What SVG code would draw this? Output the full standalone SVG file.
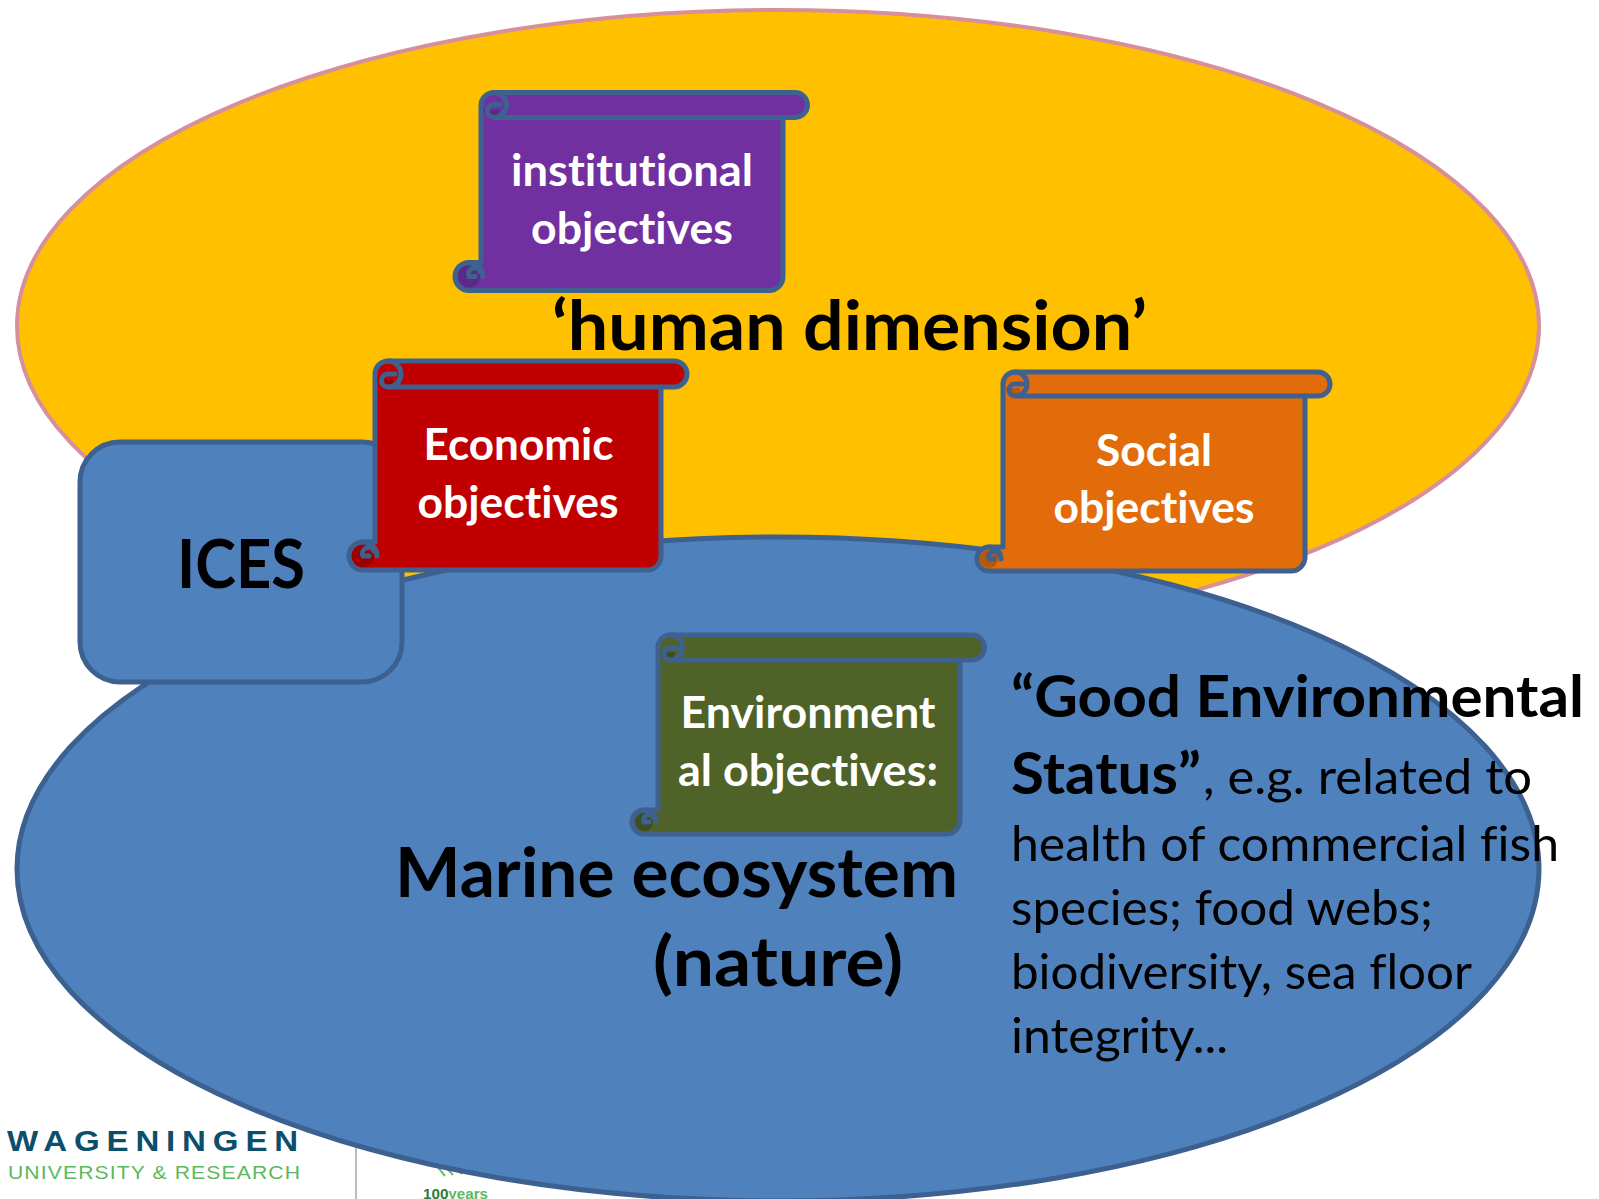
<svg xmlns="http://www.w3.org/2000/svg" width="1599" height="1199" viewBox="0 0 1599 1199">
<style>
text{font-family:"Lato","Liberation Sans",sans-serif;font-variant-ligatures:none}
.b{font-weight:700}
.w{fill:#fff;font-weight:700;font-size:43px;text-anchor:middle}
.k{fill:#000}
.s{stroke:#3f6190;stroke-width:5;stroke-linejoin:round}
.h{fill:none;stroke:#3f6190;stroke-width:5;stroke-linecap:round}
.l{font-family:"Liberation Sans",sans-serif}
</style>
<rect width="1599" height="1199" fill="#fff"/>
<g id="logo">
<text class="l" x="7" y="1151" font-size="29" font-weight="700" fill="#0b4f6c" letter-spacing="6" textLength="298" lengthAdjust="spacingAndGlyphs">WAGENINGEN</text>
<text class="l" x="8" y="1179" font-size="19" fill="#5cb85c" letter-spacing="1" textLength="293" lengthAdjust="spacingAndGlyphs">UNIVERSITY &amp; RESEARCH</text>
<line x1="356" y1="1145" x2="356" y2="1199" stroke="#bcbcbc" stroke-width="2"/>
<path d="M432 1160L445 1176M439 1160L453 1175M446 1160L462 1174" stroke="#6cbf6c" stroke-width="2" fill="none"/>
<text class="l" x="423" y="1199" font-size="15" font-weight="700" fill="#2d7a3a" textLength="65" lengthAdjust="spacingAndGlyphs">100<tspan fill="#5cb85c">years</tspan></text>
</g>
<g id="human-dimension-ellipse"><ellipse cx="778" cy="326" rx="761" ry="316" fill="#ffc000" stroke="#d6909c" stroke-width="4"/></g>
<g id="marine-ecosystem-ellipse"><ellipse cx="778" cy="869" rx="761" ry="332" fill="#4f81bd" stroke="#3c6190" stroke-width="5"/></g>
<g id="ices"><rect x="80" y="442" width="322" height="240" rx="40" fill="#4f81bd" stroke="#3c6190" stroke-width="5"/>
<text class="b k" x="241" y="588" font-size="66" text-anchor="middle" textLength="128" lengthAdjust="spacingAndGlyphs">ICES</text></g>

<g id="institutional" transform="translate(481 92.500)">
<path class="s" fill="#7030a0" d="M0 13A13 13 0 0 1 13 0H314A12.500 12.500 0 0 1 314 25H302V184A14 14 0 0 1 288 198H-12A14 14 0 0 1 -12 170H0Z"/>
<path d="M2 17H18V21A8 8 0 0 1 6 22Z" fill="#5a2a86"/>
<path class="h" d="M13 0A12.500 12.500 0 0 1 13 25H302M13 25A6.500 6.500 0 0 1 13 12H19"/>
<circle cx="-12" cy="184" r="11" fill="#5a2a86"/><path class="h" d="M-12 170A14 14 0 0 1 2 184M-1 179A6 6 0 0 0 -12 184H-6"/>
<text class="w" x="151" y="93.500" textLength="242" lengthAdjust="spacingAndGlyphs">institutional</text>
<text class="w" x="151" y="151" textLength="202" lengthAdjust="spacingAndGlyphs">objectives</text>
</g>

<g id="economic" transform="translate(375 361)">
<path class="s" fill="#c00000" d="M0 13A13 13 0 0 1 13 0H299A13 13 0 0 1 299 26H286V195A14 14 0 0 1 272 209H-12A14 14 0 0 1 -12 181H0Z"/>
<path d="M2 18H18V22A8 8 0 0 1 6 23Z" fill="#9a0000"/>
<path class="h" d="M13 0A13 13 0 0 1 13 26H286M13 26A6.500 6.500 0 0 1 13 13H20"/>
<circle cx="-12" cy="195" r="11" fill="#9a0000"/><path class="h" d="M-12 181A14 14 0 0 1 2 195M-1 190A6 6 0 0 0 -12 195H-6"/>
<text class="w" x="143.500" y="99" textLength="190" lengthAdjust="spacingAndGlyphs">Economic</text>
<text class="w" x="143" y="157" textLength="201" lengthAdjust="spacingAndGlyphs">objectives</text>
</g>

<g id="social" transform="translate(1003 372)">
<path class="s" fill="#e36c0a" d="M0 13A12 12 0 0 1 12 0H315A12 12 0 0 1 315 24H302V185A14 14 0 0 1 288 199H-14A12 12 0 0 1 -14 175H0Z"/>
<path d="M2 16H17V20A7 7 0 0 1 5 21Z" fill="#b85708"/>
<path class="h" d="M12 0A12 12 0 0 1 12 24H302M12 24A6 6 0 0 1 12 12H19"/>
<circle cx="-14" cy="187" r="9" fill="#b85708"/><path class="h" d="M-14 175A12 12 0 0 1 -2 187M-4 183A5 5 0 0 0 -14 187H-9"/>
<text class="w" x="151" y="94" textLength="116" lengthAdjust="spacingAndGlyphs">Social</text>
<text class="w" x="151" y="151" textLength="201" lengthAdjust="spacingAndGlyphs">objectives</text>
</g>

<g id="environmental" transform="translate(658 635)">
<path class="s" fill="#4f6228" d="M0 13A12 12 0 0 1 12 0H314A12 12 0 0 1 314 25H302V185A14 14 0 0 1 288 199H-14A12 12 0 0 1 -14 175H0Z"/>
<path d="M2 17H17V21A7 7 0 0 1 5 22Z" fill="#3f4e20"/>
<path class="h" d="M12 0A12.500 12.500 0 0 1 12 25H302M12 25A6 6 0 0 1 12 13H19"/>
<circle cx="-14" cy="187" r="9" fill="#3f4e20"/><path class="h" d="M-14 175A12 12 0 0 1 -2 187M-4 183A5 5 0 0 0 -14 187H-9"/>
<text class="w" x="150" y="93" textLength="255" lengthAdjust="spacingAndGlyphs">Environment</text>
<text class="w" x="150" y="151" textLength="260" lengthAdjust="spacingAndGlyphs">al objectives:</text>
</g>

<g id="labels">
<text class="b k" x="552" y="350" font-size="68" textLength="595" lengthAdjust="spacingAndGlyphs">‘human dimension’</text>
<text class="b k" x="395" y="897" font-size="68" textLength="563" lengthAdjust="spacingAndGlyphs">Marine ecosystem</text>
<text class="b k" x="653" y="986" font-size="68" textLength="250" lengthAdjust="spacingAndGlyphs">(nature)</text>
<text class="b k" x="1011" y="717" font-size="57" textLength="573" lengthAdjust="spacingAndGlyphs">“Good Environmental</text>
<text class="b k" x="1011" y="794" font-size="57" textLength="190" lengthAdjust="spacingAndGlyphs">Status”</text>
<text class="k" x="1203" y="794" font-size="48" textLength="329" lengthAdjust="spacingAndGlyphs">, e.g. related to</text>
<text class="k" x="1011" y="861" font-size="48" textLength="548" lengthAdjust="spacingAndGlyphs">health of commercial fish</text>
<text class="k" x="1011" y="925" font-size="48" textLength="422" lengthAdjust="spacingAndGlyphs">species; food webs;</text>
<text class="k" x="1011" y="989" font-size="48" textLength="461" lengthAdjust="spacingAndGlyphs">biodiversity, sea floor</text>
<text class="k" x="1011" y="1053" font-size="48" textLength="217" lengthAdjust="spacingAndGlyphs">integrity...</text>
</g>
</svg>
